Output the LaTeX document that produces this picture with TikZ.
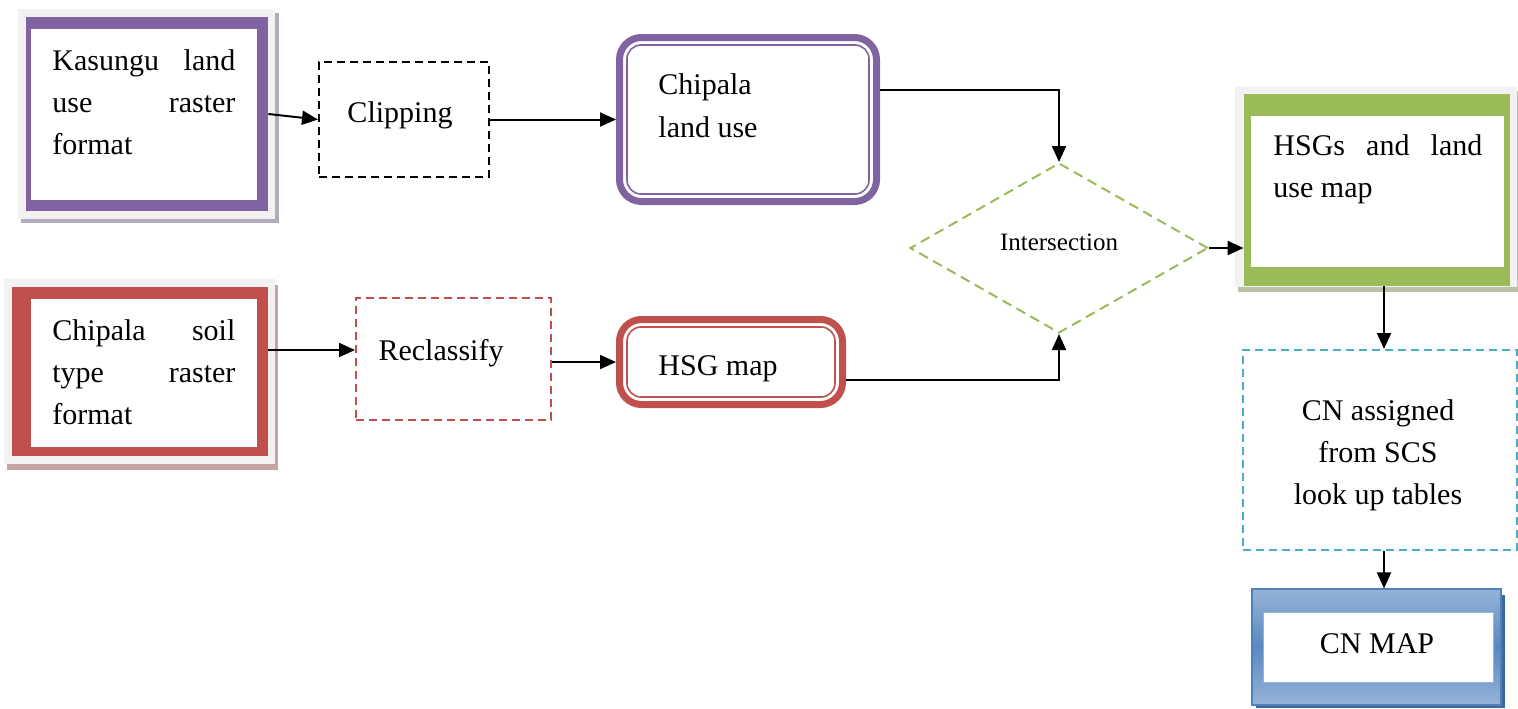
\documentclass[tikz,border=0pt]{standalone}
\usepackage{fontspec}
\setmainfont{Liberation Serif}
\usetikzlibrary{shapes.geometric,arrows.meta,fit,calc}
\definecolor{purp}{HTML}{8064A2}
\definecolor{redc}{HTML}{C0504D}
\definecolor{grn}{HTML}{9BBB59}
\definecolor{cyanc}{HTML}{4BACC6}
\definecolor{blu}{HTML}{4F81BD}
\definecolor{lblu}{HTML}{95B3D7}
\definecolor{framec}{HTML}{F2F2F2}
\begin{document}
\begin{tikzpicture}[x=0.5pt,y=-0.5pt,
  txt/.style={font=\fontsize{15}{21}\selectfont, inner sep=0},
  smalltxt/.style={font=\fontsize{12.5}{16}\selectfont, inner sep=0},
  arr/.style={line width=1pt, -{Triangle[length=8pt,width=7pt]}},
  fitbox/.style={inner sep=0},
  dashbox/.style={fitbox, line width=1pt, dash pattern=on 4pt off 2.5pt},
  dbl/.style={fitbox, line width=3.5pt, rounded corners=11pt},
  thinin/.style={line width=0.8pt, rounded corners=7pt}]
\useasboundingbox (0,0) rectangle (1518,708);

% ---- Kasungu land use raster
\fill[purp!50!gray!60] (21,13) rectangle (279,223);
\fill[framec] (18,9) rectangle (275,219);
\node[fitbox, fill=purp, fit={(26,17) (268,211)}] (kas) {};
\fill[white] (31,29) rectangle (257,200);
\node[txt, anchor=base west] (kas1) at (52,70) {\makebox[91.5pt][s]{Kasungu land}};
\node[txt, anchor=base west] (kas2) at (52,112) {\makebox[91.5pt][s]{use raster}};
\node[txt, anchor=base west] (kas3) at (52,154) {format};

% ---- Clipping
\node[dashbox, draw=black, fit={(319,62) (489,177)}] (clip) {};
\node[txt, anchor=base] (cliptxt) at (400,122) {Clipping};

% ---- Chipala land use
\node[dbl, draw=purp, fit={(619.5,37.5) (876.5,201.5)}] (cl) {};
\draw[thinin, purp] (627,45) rectangle (869,194);
\node[txt, anchor=base west] (cl1) at (658,94) {Chipala};
\node[txt, anchor=base west] (cl2) at (658,137) {land use};

% ---- Chipala soil raster
\fill[redc!50!gray!60] (7,285) rectangle (278,470);
\fill[framec] (4,279) rectangle (275,464);
\node[fitbox, fill=redc, fit={(12,287) (268,456)}] (soil) {};
\fill[white] (31,299) rectangle (257,447);
\node[txt, anchor=base west] (soil1) at (52,340) {\makebox[91.5pt][s]{Chipala soil}};
\node[txt, anchor=base west] (soil2) at (52,382) {\makebox[91.5pt][s]{type raster}};
\node[txt, anchor=base west] (soil3) at (52,424) {format};

% ---- Reclassify
\node[dashbox, draw=redc, fit={(356,298) (551,420)}] (recl) {};
\node[txt, anchor=base] (recltxt) at (441,360) {Reclassify};

% ---- HSG map
\node[dbl, draw=redc, fit={(619.5,319.5) (842.5,404.5)}] (hsg) {};
\draw[thinin, redc] (627,327) rectangle (835,397);
\node[txt, anchor=base] (hsgtxt) at (718,375) {HSG map};

% ---- Intersection
\node[diamond, draw=grn, line width=1pt, dash pattern=on 5pt off 3pt,
      minimum width=149pt, minimum height=85pt, inner sep=0] (dia) at (1059,248) {};
\node[smalltxt, anchor=base] (diatxt) at (1059,250) {Intersection};

% ---- HSGs and land use map
\fill[grn!50!gray!60] (1238,91) rectangle (1518,292);
\fill[framec] (1235,87) rectangle (1517,287);
\node[fitbox, fill=grn, fit={(1244,94) (1510,286)}] (hsgs) {};
\fill[white] (1251,116) rectangle (1504,267);
\node[txt, anchor=base west] (hsgs1) at (1273,155) {\makebox[104.5pt][s]{HSGs and land}};
\node[txt, anchor=base west] (hsgs2) at (1273,197) {use map};

% ---- CN assigned
\node[dashbox, draw=cyanc, fit={(1243,350) (1517,550)}] (cnA) {};
\node[txt, anchor=base] (cnA1) at (1378,420) {CN assigned};
\node[txt, anchor=base] (cnA2) at (1378,462) {from SCS};
\node[txt, anchor=base] (cnA3) at (1378,504) {look up tables};

% ---- CN MAP
\fill[blu!80!black] (1256,595) rectangle (1505,708);
\node[fitbox, draw=blu, line width=0.6pt, top color=lblu, bottom color=lblu, middle color=blu!85!lblu,
      fit={(1252,589) (1501,705)}] (cnM) {};
\draw[fill=white, draw=lblu, line width=0.5pt] (1263,612) rectangle (1493,682);
\node[txt, anchor=base] (cnMtxt) at (1377,653) {CN MAP};

% ---- connectors
\coordinate (y90) at (0,90);
\coordinate (y350) at (0,350);
\coordinate (y380) at (0,380);
\coordinate (x1384) at (1384,0);
\draw[arr] (kas.east) -- (clip.west);
\draw[arr] (clip.east) -- (clip.east -| cl.west);
\draw[arr] (cl.east |- y90) -| (dia.north);
\draw[arr] (soil.east |- y350) -- (recl.west |- y350);
\draw[arr] (recl.east |- hsg.west) -- (hsg.west);
\draw[arr] (hsg.east |- y380) -| (dia.south);
\draw[arr] (dia.east) -- (dia.east -| hsgs.west);
\draw[arr] (hsgs.south -| x1384) -- (cnA.north -| x1384);
\draw[arr] (cnA.south -| x1384) -- (cnM.north -| x1384);
\end{tikzpicture}
\end{document}
